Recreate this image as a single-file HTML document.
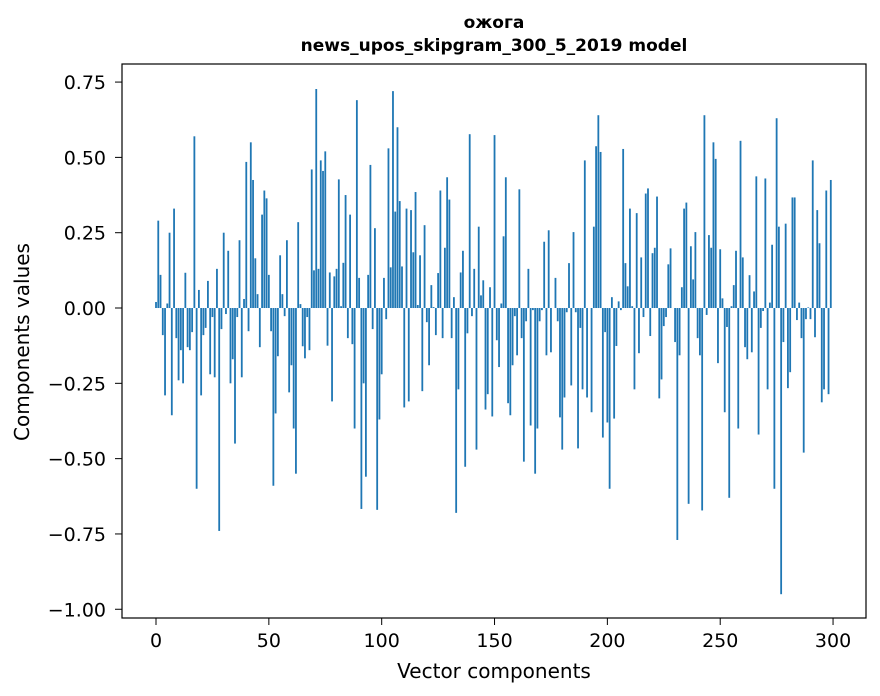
<!DOCTYPE html>
<html><head><meta charset="utf-8"><style>
html,body{margin:0;padding:0;background:#fff;}
svg{display:block;font-family:"DejaVu Sans","Liberation Sans",sans-serif;}
</style></head><body>
<svg id="chart" width="880" height="696" viewBox="0 0 880 696" xmlns="http://www.w3.org/2000/svg">
<rect x="0" y="0" width="880" height="696" fill="#fff"/>
<text x="494" y="28" text-anchor="middle" font-size="17" font-weight="bold">ожога</text>
<text x="494" y="51" text-anchor="middle" font-size="17" font-weight="bold">news_upos_skipgram_300_5_2019 model</text>
<g id="bars"></g>
<g id="axes"></g>
<text x="494" y="678" text-anchor="middle" font-size="20">Vector components</text>
<text transform="translate(29,342) rotate(-90)" text-anchor="middle" font-size="20">Components values</text>
</svg>
<script>
const values = [
0.02,0.29,0.11,-0.09,-0.29,0.015,0.25,-0.356,0.33,-0.10,
-0.24,-0.14,-0.25,0.117,-0.13,-0.14,-0.08,0.57,-0.60,0.06,
-0.29,-0.09,-0.066,0.09,-0.22,-0.03,-0.23,0.13,-0.74,-0.07,
0.25,-0.02,0.19,-0.25,-0.17,-0.45,-0.03,0.225,-0.23,0.03,
0.485,-0.077,0.55,0.425,0.165,0.046,-0.13,0.31,0.39,0.364,
0.11,-0.077,-0.59,-0.35,-0.16,0.175,0.046,-0.027,0.225,-0.28,
-0.19,-0.40,-0.55,0.285,0.013,-0.127,-0.167,-0.03,-0.14,0.46,
0.125,0.727,0.13,0.49,0.455,0.52,-0.125,0.118,-0.31,0.105,
0.13,0.427,0.006,0.15,0.375,-0.1,0.31,-0.12,-0.40,0.69,
0.1,-0.667,-0.25,-0.56,0.11,0.475,-0.07,0.265,-0.67,-0.37,
-0.22,0.1,-0.037,0.53,0.135,0.72,0.32,0.60,0.355,0.138,
-0.33,0.33,-0.31,0.325,0.185,0.385,0.01,0.175,-0.276,0.275,
-0.047,-0.19,0.076,0.003,-0.09,0.116,0.39,-0.10,0.2,0.434,
0.36,-0.10,0.036,-0.68,-0.27,0.118,0.19,-0.527,-0.084,0.577,
-0.027,0.13,-0.47,0.27,0.042,0.092,-0.337,-0.286,0.069,-0.36,
0.574,-0.107,-0.196,0.015,0.238,0.434,-0.316,-0.356,-0.19,-0.027,
-0.157,0.394,-0.1,-0.51,-0.044,0.13,-0.39,-0.007,-0.55,-0.40,
-0.044,-0.007,0.22,-0.157,0.258,-0.147,0,0.1,-0.044,-0.363,
-0.47,-0.297,-0.014,0.149,-0.257,0.252,-0.014,-0.466,-0.066,-0.27,
0.49,-0.297,0,-0.346,0.27,0.537,0.64,0.518,-0.43,-0.08,
-0.38,-0.60,0.036,-0.367,-0.126,0.022,-0.007,0.528,0.149,0.072,
0.33,0.006,-0.27,0.315,-0.15,0.168,-0.03,0.38,0.397,-0.093,
0.182,0.2,0.37,-0.3,-0.237,-0.06,-0.03,0.145,0.198,0,
-0.113,-0.77,-0.157,0.069,0.33,0.35,-0.65,0.205,0.095,0.252,
-0.1,-0.157,-0.672,0.64,-0.023,0.242,0.2,0.55,0.495,-0.183,
0.195,0.032,-0.346,-0.063,-0.63,0.006,0.076,0.19,-0.4,0.555,
0.168,-0.13,-0.17,0.109,-0.147,0.055,0.437,-0.42,-0.066,-0.01,
0.43,-0.27,0.018,0.21,-0.60,0.63,0.27,-0.95,-0.113,0.28,
-0.266,-0.213,0.367,0.367,-0.04,0.018,-0.1,-0.48,-0.037,0.002,
-0.037,0.49,-0.097,0.325,0.215,-0.313,-0.27,0.39,-0.286,0.425
];
const xTicks = [0,50,100,150,200,250,300];
const yTicks = [0.75,0.5,0.25,0,-0.25,-0.5,-0.75,-1.0];
const yTickLabels = ["0.75","0.50","0.25","0.00","\u22120.25","\u22120.50","\u22120.75","\u22121.00"];

const L=122,R=866,T=64,B=618;
const xMin=-15.07,xMax=314.6,yMin=-1.029,yMax=0.81;
function xs(v){return L+(v-xMin)/(xMax-xMin)*(R-L);}
function ys(v){return T+(yMax-v)/(yMax-yMin)*(B-T);}
const NS="http://www.w3.org/2000/svg";
const bars=document.getElementById('bars');
values.forEach((v,i)=>{
  const r=document.createElementNS(NS,'rect');
  const x0=xs(i-0.4),x1=xs(i+0.4);
  const y0=ys(Math.max(v,0)),y1=ys(Math.min(v,0));
  r.setAttribute('x',x0);r.setAttribute('width',x1-x0);
  r.setAttribute('y',y0);r.setAttribute('height',Math.max(y1-y0,0.01));
  r.setAttribute('fill','#1f77b4');
  
  
  bars.appendChild(r);
});
const ax=document.getElementById('axes');
const frame=document.createElementNS(NS,'rect');
frame.setAttribute('x',L);frame.setAttribute('y',T);frame.setAttribute('width',R-L);frame.setAttribute('height',B-T);
frame.setAttribute('fill','none');frame.setAttribute('stroke','#000');frame.setAttribute('stroke-width','1.2');


ax.appendChild(frame);
xTicks.forEach(t=>{
  const x=xs(t);
  const l=document.createElementNS(NS,'line');
  l.setAttribute('x1',x);l.setAttribute('x2',x);l.setAttribute('y1',B);l.setAttribute('y2',B+7);l.setAttribute('stroke','#000');
  
  
  ax.appendChild(l);
  const tx=document.createElementNS(NS,'text');
  tx.setAttribute('x',x);tx.setAttribute('y',B+29);tx.setAttribute('text-anchor','middle');tx.setAttribute('font-size','19');
  tx.textContent=String(t);
  
  
  ax.appendChild(tx);
});
yTicks.forEach((t,i)=>{
  const y=ys(t);
  const l=document.createElementNS(NS,'line');
  l.setAttribute('x1',L-7);l.setAttribute('x2',L);l.setAttribute('y1',y);l.setAttribute('y2',y);l.setAttribute('stroke','#000');
  
  
  ax.appendChild(l);
  const tx=document.createElementNS(NS,'text');
  tx.setAttribute('x',L-16);tx.setAttribute('y',y+7);tx.setAttribute('text-anchor','end');tx.setAttribute('font-size','19');
  tx.textContent=yTickLabels[i];
  
  
  ax.appendChild(tx);
});
</script>
</body></html>
